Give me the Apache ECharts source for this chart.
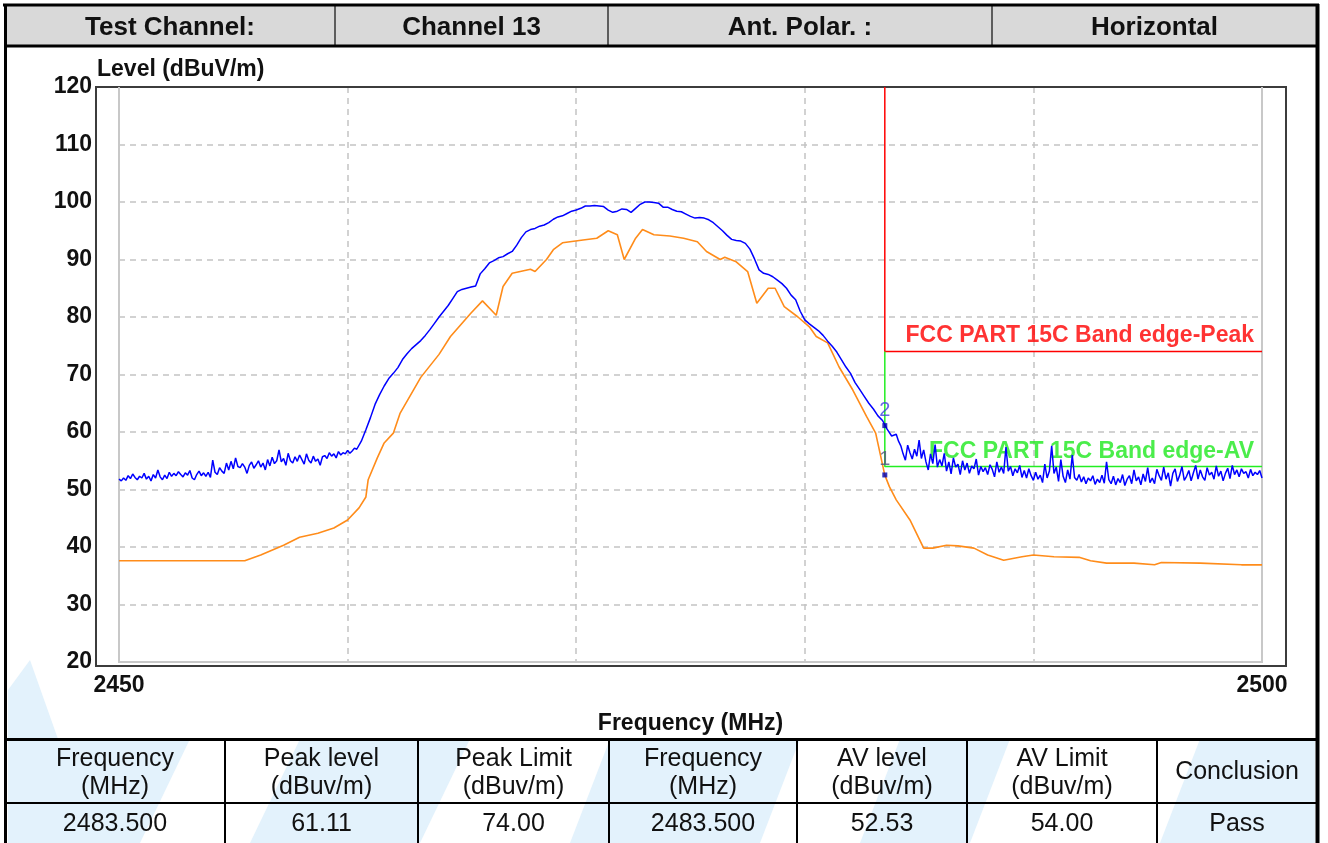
<!DOCTYPE html>
<html><head><meta charset="utf-8">
<script src="https://cdn.jsdelivr.net/npm/echarts@6/dist/echarts.min.js"></script>
<style>html,body{margin:0;padding:0;background:#fff}#c{width:1328px;height:843px}</style>
</head><body><div id="c"></div>
<script>
// ---------- data ----------
const headerCells = ['Test Channel:', 'Channel 13', 'Ant. Polar. :', 'Horizontal'];
const tableHead = [['Frequency','(MHz)'],['Peak level','(dBuv/m)'],['Peak Limit','(dBuv/m)'],['Frequency','(MHz)'],['AV level','(dBuv/m)'],['AV Limit','(dBuv/m)'],['Conclusion']];
const tableRow = ['2483.500','61.11','74.00','2483.500','52.53','54.00','Pass'];
const xEndLabels = [2450, 2500];
const yAxisName = 'Level (dBuV/m)';
const xAxisName = 'Frequency (MHz)';

// Peak trace (blue), in three segments: start frequency, step (MHz), levels (dBuV/m)
const peakLowStart = 2450.0, peakLowStep = 0.1;
const peakLow = [
51.8,51.5,52.0,51.6,52.4,51.9,52.7,52.1,51.7,52.3,
52.0,52.8,51.8,52.3,51.5,52.6,52.0,53.4,52.2,51.7,
52.5,51.9,53.0,52.3,52.8,52.4,53.1,52.6,52.2,52.9,
52.5,53.3,52.0,51.7,52.6,53.2,52.4,52.9,52.3,53.0,
52.1,55.1,53.0,52.6,53.8,53.2,52.8,54.6,53.4,54.9,
53.6,55.5,54.0,53.8,54.5,53.9,52.8,54.2,54.8,53.7,
54.3,55.0,53.9,54.6,53.4,55.2,54.1,55.6,54.5,55.0,
56.9,54.8,55.4,54.2,56.3,55.0,54.6,55.7,54.9,56.0,
55.2,54.4,56.2,55.1,54.6,55.8,54.9,55.3,54.2,55.7,
55.9,55.4,56.4,55.8,56.2,55.5,56.6,56.0,56.4,56.2,
56.8,56.3,56.7,57.2,57.0
];
const peakMidStart = 2460.6, peakMidStep = 0.2;
const peakMid = [
58.4,60.4,
62.5,64.8,66.5,68.0,69.3, 70.2,71.2,72.6,73.6,74.5, 75.2,75.9,76.8,77.8,78.9, 80.0,81.0,82.0,83.2,84.4,
84.8,85.0,85.2,85.4,87.5, 88.4,89.4,89.8,90.3,90.5, 91.0,91.4,92.5,93.8,94.8, 95.2,95.4,95.8,96.0,96.4,
97.0,97.4,97.6,98.0,98.4, 98.6,98.9,99.3,99.3,99.4, 99.3,99.2,98.6,98.2,98.4, 98.8,98.7,98.2,98.9,99.6,
100.0,100.0,99.9,99.8,99.1, 99.1,98.7,98.4,98.3,97.9, 97.5,97.2,97.3,97.2,96.9, 96.4,95.7,95.0,94.2,93.5,
93.3,93.2,92.8,91.8,90.1, 88.2,87.6,87.4,87.0,86.4, 85.8,85.0,83.8,83.0,81.0, 79.5,78.8,78.2,77.6,76.8,
75.8,74.9,73.9,72.6,71.3, 70.2,68.6,67.4,66.2,65.0, 64.0,62.8,62.0,60.5,59.3
];
const peakHighStart = 2484.0, peakHighStep = 0.1;
const peakHigh = [
59.6,58.4,57.6,56.2,55.1,57.7,56.4,55.3,57.0,55.8,
58.6,55.4,56.9,54.8,53.4,56.2,54.5,57.8,53.9,55.2,
54.1,56.3,53.2,54.8,52.7,55.5,53.9,54.4,52.6,55.0,
53.4,54.6,52.8,54.1,53.6,55.3,52.5,54.0,53.1,53.8,
52.6,54.3,53.5,52.2,54.8,53.0,53.9,52.8,57.4,53.2,
54.0,52.4,53.6,52.9,54.2,52.1,53.3,52.0,53.6,52.4,
51.6,53.0,51.8,52.5,51.2,54.4,52.0,53.2,57.6,52.8,
53.9,51.4,55.2,52.3,51.2,53.4,51.8,56.0,52.1,51.6,
52.6,51.3,52.2,51.0,52.0,51.5,52.4,50.9,51.8,51.2,
52.5,51.1,54.8,51.7,51.0,52.3,50.8,51.9,51.2,52.6,
50.7,51.8,52.4,51.0,53.4,51.5,52.2,50.8,52.7,51.4,
53.8,51.2,52.0,51.0,53.5,52.4,51.6,53.9,51.8,52.9,
50.6,52.8,53.6,51.4,52.5,54.0,51.6,52.3,53.3,51.5,
52.9,54.2,51.8,53.4,52.2,51.6,53.8,52.5,53.0,51.8,
54.1,52.3,53.2,51.5,52.8,53.7,51.9,54.2,52.6,53.4,
52.2,53.6,52.8,53.1,52.0,53.5,52.4,53.0,52.6,53.3,
52.0
];

// Average trace (orange)
const avgFreq = [2450,2455.5,2456.2,2457.2,2457.9,2458.7,2459.4,2460.0,2460.5,2460.8,2460.9,2461.3,2461.6,2462.0,2462.3,2463.2,2464.0,2464.5,
2465.4,2465.9,2466.5,2466.8,2467.2,2468.0,2468.2,2468.7,2469.0,2469.4,2470.3,2470.9,2471.4,2471.8,2472.1,2472.6,2472.9,2473.4,2474.1,2474.7,
2475.3,2475.7,2476.3,2476.5,2477.0,2477.5,2477.9,2478.4,2478.7,2479.1,2479.7,2480.2,2480.5,2481.0,2481.5,2482.1,2482.7,2483.1,2483.5,2483.7,
2484.0,2484.6,2485.2,2485.6,2486.2,2486.7,2487.4,2488.0,2488.7,2489.5,2490.0,2490.9,2492.0,2492.5,2493.2,2494.4,2495.3,2495.6,2497.3,2499.1,2500];
const avgLevel = [37.6,37.6,38.6,40.3,41.7,42.4,43.3,44.7,46.8,48.7,51.7,55.5,58.1,59.8,63.3,69.5,73.5,76.6,
80.7,82.8,80.3,85.3,87.6,88.3,87.9,90.0,91.7,92.9,93.4,93.7,95.0,94.3,90.0,93.7,95.2,94.3,94.1,93.7,
93.1,91.4,90.0,90.4,89.6,87.9,82.4,85.0,85.0,81.8,80.0,78.3,76.6,75.5,71.3,67.3,62.7,59.8,52.5,50.5,
48.2,44.7,39.8,39.8,40.3,40.2,39.8,38.6,37.7,38.3,38.6,38.3,38.2,37.6,37.2,37.2,36.9,37.3,37.2,36.9,36.9];

const bandEdge = 2483.5;
const peakLimit = 74, avLimit = 54, yTop = 120;
const markerLevels = [61.11, 52.53];
const markerNames = ['2', '1'];
const limitNames = ['FCC PART 15C Band edge-Peak', 'FCC PART 15C Band edge-AV'];

// ---------- chart ----------
const FONT = 'Arial, "Liberation Sans", sans-serif';
const seg = (start, step, arr) => arr.map((v, i) => [+(start + i * step).toFixed(1), v]);
const peakData = seg(peakLowStart, peakLowStep, peakLow)
  .concat(seg(peakMidStart, peakMidStep, peakMid))
  .concat(seg(peakHighStart, peakHighStep, peakHigh));
const avgData = avgFreq.map((f, i) => [f, avgLevel[i]]);

const G = [];
G.push({type:'rect', z:0, shape:{x:5,y:5,width:1312,height:41}, style:{fill:'#d9d9d9'}});
const wm = [
  [[8,739],[190,739],[140,843],[8,843]],
  [[300,739],[470,739],[420,843],[250,843]],
  [[610,739],[800,739],[760,843],[570,843]],
  [[900,739],[1010,739],[970,843],[860,843]],
  [[1200,739],[1315,739],[1315,843],[1160,843]],
  [[8,690],[30,660],[58,739],[8,739]]
];
wm.forEach(p => G.push({type:'polygon', z:0, shape:{points:p}, style:{fill:'#e3f2fc'}}));
[335,608,992].forEach(x => G.push({type:'line', z:5, shape:{x1:x,y1:5,x2:x,y2:46}, style:{stroke:'#333',lineWidth:1.5}}));
G.push({type:'line', z:5, shape:{x1:4,y1:46,x2:1318,y2:46}, style:{stroke:'#000',lineWidth:3}});
headerCells.forEach((t, i) => {
  const bounds = [5,335,608,992,1317];
  G.push({type:'text', z:6, x:(bounds[i]+bounds[i+1])/2, y:28, style:{text:t, font:'bold 26px '+FONT, fill:'#111', align:'center', verticalAlign:'middle'}});
});
const cb = [5,225,418,609,797,967,1157,1317];
G.push({type:'line', z:5, shape:{x1:4,y1:739.5,x2:1318,y2:739.5}, style:{stroke:'#000',lineWidth:3}});
G.push({type:'line', z:5, shape:{x1:4,y1:803,x2:1318,y2:803}, style:{stroke:'#000',lineWidth:2}});
cb.slice(1,-1).forEach(x => G.push({type:'line', z:5, shape:{x1:x,y1:739,x2:x,y2:843}, style:{stroke:'#000',lineWidth:2}}));
tableHead.forEach((lines, i) => {
  const cx = (cb[i]+cb[i+1])/2;
  if (lines.length === 2) {
    G.push({type:'text', z:6, x:cx, y:759, style:{text:lines[0], font:'25px '+FONT, fill:'#111', align:'center', verticalAlign:'middle'}});
    G.push({type:'text', z:6, x:cx, y:787, style:{text:lines[1], font:'25px '+FONT, fill:'#111', align:'center', verticalAlign:'middle'}});
  } else {
    G.push({type:'text', z:6, x:cx, y:772, style:{text:lines[0], font:'25px '+FONT, fill:'#111', align:'center', verticalAlign:'middle'}});
  }
});
tableRow.forEach((t, i) => {
  G.push({type:'text', z:6, x:(cb[i]+cb[i+1])/2, y:824, style:{text:t, font:'25px '+FONT, fill:'#111', align:'center', verticalAlign:'middle'}});
});
G.push({type:'line', z:7, shape:{x1:3,y1:5,x2:1319,y2:5}, style:{stroke:'#000',lineWidth:3}});
G.push({type:'line', z:7, shape:{x1:5.5,y1:4,x2:5.5,y2:843}, style:{stroke:'#000',lineWidth:3}});
G.push({type:'line', z:7, shape:{x1:1317.5,y1:4,x2:1317.5,y2:843}, style:{stroke:'#000',lineWidth:4}});
G.push({type:'rect', z:1, shape:{x:96,y:87,width:1190,height:579}, style:{fill:null, stroke:'#3c3c3c', lineWidth:2}});
G.push({type:'polyline', z:1, shape:{points:[[119,87],[119,662],[1262,662],[1262,87]]}, style:{fill:null, stroke:'#c8c8c8', lineWidth:2}});
G.push({type:'text', z:6, x:97, y:70, style:{text:yAxisName, font:'bold 23px '+FONT, fill:'#111', align:'left', verticalAlign:'middle'}});

const option = {
  backgroundColor:'#fff',
  animation:false,
  textStyle:{fontFamily:FONT},
  grid:{left:119, right:66, top:87, bottom:181, show:false},
  xAxis:{
    type:'value', min:2450, max:2500, interval:10,
    name:xAxisName, nameLocation:'middle', nameGap:50,
    nameTextStyle:{fontSize:23, fontWeight:'bold', color:'#111', fontFamily:FONT},
    axisLine:{show:false}, axisTick:{show:false},
    axisLabel:{margin:12, fontSize:23, fontWeight:'bold', color:'#111', fontFamily:FONT,
      showMinLabel:true, showMaxLabel:true,
      formatter:v => xEndLabels.includes(v) ? String(v) : ''},
    splitLine:{show:true, lineStyle:{color:'#c4c4c4', width:1.5, type:[6,5]}}
  },
  yAxis:{
    type:'value', min:20, max:120, interval:10,
    axisLine:{show:false}, axisTick:{show:false},
    axisLabel:{margin:27, fontSize:23, fontWeight:'bold', color:'#111', fontFamily:FONT},
    splitLine:{show:true, lineStyle:{color:'#c4c4c4', width:1.5, type:[6,5]}}
  },
  graphic:G,
  series:[
    {type:'scatter', z:1, silent:true, symbolSize:0,
      data:[
        {value:[2500, peakLimit], label:{show:true, position:'left', distance:8, offset:[0,-16], formatter:limitNames[0], color:'#ff0000', fontSize:23, fontWeight:'bold', fontFamily:FONT}},
        {value:[2500, avLimit], label:{show:true, position:'left', distance:8, offset:[0,-15], formatter:limitNames[1], color:'#1ee81e', fontSize:23, fontWeight:'bold', fontFamily:FONT}}
      ]},
    {type:'line', z:2, silent:true, symbol:'none', data:[[bandEdge, yTop],[bandEdge, peakLimit],[2500, peakLimit]], lineStyle:{color:'#ff0000', width:1.5}},
    {type:'line', z:2, silent:true, symbol:'none', data:[[bandEdge, peakLimit],[bandEdge, avLimit],[2500, avLimit]], lineStyle:{color:'#22ee22', width:1.5}},
    {type:'line', z:3, silent:true, symbol:'none', data:avgData, lineStyle:{color:'#ff8c1a', width:1.6}},
    {type:'line', z:4, silent:true, symbol:'none', data:peakData, lineStyle:{color:'#0000ff', width:1.5}},
    {type:'scatter', z:5, silent:true, symbol:'rect', symbolSize:5, itemStyle:{color:'#0000b0'},
      data:markerLevels.map((v,i)=>({value:[bandEdge, v], label:{show:true, position:'top', distance:3, formatter:markerNames[i], color: i===0 ? '#4040e0' : '#505080', fontSize:20, fontFamily:FONT}}))}
  ]
};
const chart = echarts.init(document.getElementById('c'));
chart.setOption(option);
</script>
</body></html>
